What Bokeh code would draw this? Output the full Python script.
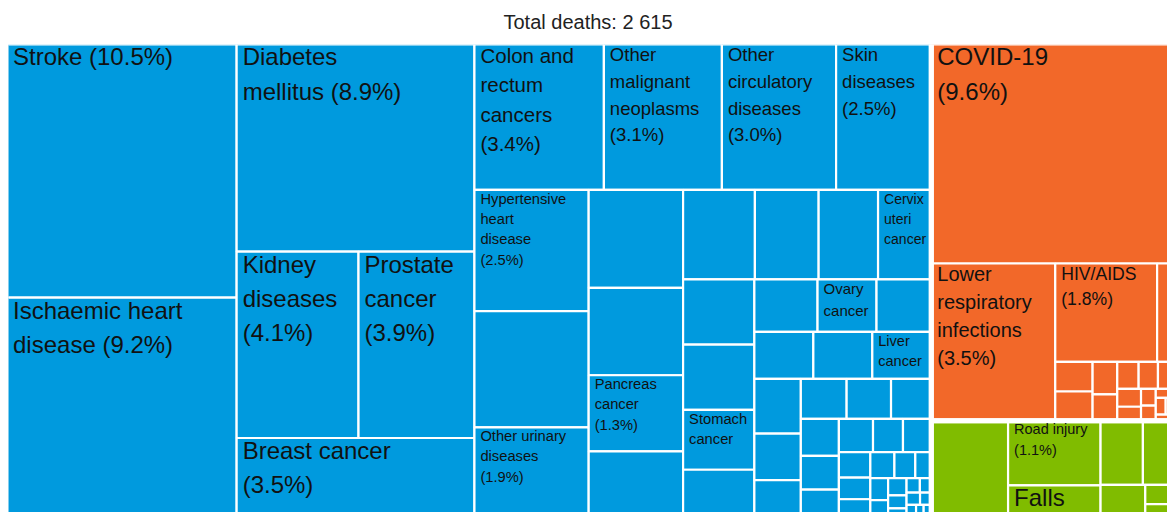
from bokeh.plotting import figure
from bokeh.models import ColumnDataSource, Range1d
from bokeh.embed import file_html
from bokeh.resources import INLINE
from bokeh.core.properties import value

# ---------------- data ----------------
TOTAL_DEATHS = 2615

group_names = ["Noncommunicable diseases",
               "Communicable, maternal, perinatal and nutritional conditions",
               "Injuries"]
group_colors = ["#009ADE", "#F26829", "#80BC00"]

# share of total deaths (%), sorted as in the chart; "" = tile without a visible label
ncd_names = ["Stroke", "Ischaemic heart disease", "Diabetes mellitus", "Kidney diseases",
             "Prostate cancer", "Breast cancer", "Colon and rectum cancers",
             "Other malignant neoplasms", "Other circulatory diseases", "Skin diseases",
             "Hypertensive heart disease", "", "Other urinary diseases", "", "",
             "Pancreas cancer", "", "", "", "", "Cervix uteri cancer", "", "",
             "Stomach cancer", "", "", "Ovary cancer", "", "", "", "Liver cancer",
             "", "", "", "", "", "", "", "", "", "", "", "", "", "", "", "", "", "",
             "", "", "", "", "", "", "", "", "", "", "", ""]
ncd_values = [10.5, 9.2, 8.9, 4.1, 3.9, 3.5, 3.4, 3.1, 3.0, 2.5,
              2.5, 2.4, 1.9, 1.67, 1.49, 1.30, 1.16, 1.16, 1.03, 0.96,
              0.86, 0.84, 0.84, 0.77, 0.64, 0.60, 0.56, 0.52, 0.50, 0.50,
              0.50, 0.46, 0.39, 0.33, 0.33, 0.32, 0.29, 0.255, 0.232, 0.205,
              0.205, 0.18, 0.17, 0.145, 0.123, 0.115, 0.113, 0.098, 0.075, 0.071,
              0.062, 0.058, 0.043, 0.037, 0.035, 0.03, 0.03, 0.025, 0.025, 0.02, 0.02]

comm_names = ["COVID-19", "Lower respiratory infections", "HIV/AIDS", "", "", "", "", "",
              "", "", "", "", "", "", "", "", "", "", ""]
comm_values = [9.6, 3.52, 1.81, 0.30, 0.20, 0.197, 0.145, 0.117, 0.104, 0.094,
               0.078, 0.077, 0.06, 0.045, 0.04, 0.03, 0.03, 0.025, 0.02]

inj_names = ["", "Road injury", "Falls", "", "", "", "", ""]
inj_values = [1.37, 1.08, 0.57, 0.49, 0.36, 0.28, 0.10, 0.08]

# how each visible label is broken into lines ({p} = share of deaths)
label_lines = {
    "Stroke": "Stroke ({p})",
    "Ischaemic heart disease": "Ischaemic heart\ndisease ({p})",
    "Diabetes mellitus": "Diabetes\nmellitus ({p})",
    "Kidney diseases": "Kidney\ndiseases\n({p})",
    "Prostate cancer": "Prostate\ncancer\n({p})",
    "Breast cancer": "Breast cancer\n({p})",
    "Colon and rectum cancers": "Colon and\nrectum\ncancers\n({p})",
    "Other malignant neoplasms": "Other\nmalignant\nneoplasms\n({p})",
    "Other circulatory diseases": "Other\ncirculatory\ndiseases\n({p})",
    "Skin diseases": "Skin\ndiseases\n({p})",
    "Hypertensive heart disease": "Hypertensive\nheart\ndisease\n({p})",
    "Other urinary diseases": "Other urinary\ndiseases\n({p})",
    "Pancreas cancer": "Pancreas\ncancer\n({p})",
    "Cervix uteri cancer": "Cervix\nuteri\ncancer",
    "Stomach cancer": "Stomach\ncancer",
    "Ovary cancer": "Ovary\ncancer",
    "Liver cancer": "Liver\ncancer",
    "COVID-19": "COVID-19\n({p})",
    "Lower respiratory infections": "Lower\nrespiratory\ninfections\n({p})",
    "HIV/AIDS": "HIV/AIDS\n({p})",
    "Road injury": "Road injury\n({p})",
    "Falls": "Falls",
}
# style: label font size (px)
label_px = {
    "Stroke": 24, "Ischaemic heart disease": 24, "Diabetes mellitus": 24,
    "Kidney diseases": 24, "Prostate cancer": 24, "Breast cancer": 24,
    "Colon and rectum cancers": 20.5, "Other malignant neoplasms": 18.5,
    "Other circulatory diseases": 18.5, "Skin diseases": 18.5,
    "Hypertensive heart disease": 14.7, "Other urinary diseases": 14.7,
    "Pancreas cancer": 14.7, "Cervix uteri cancer": 14, "Stomach cancer": 14.7,
    "Ovary cancer": 15, "Liver cancer": 14.5, "COVID-19": 24,
    "Lower respiratory infections": 20, "HIV/AIDS": 17.6, "Road injury": 14.5,
    "Falls": 24,
}

# ---------------- layout (treemap) ----------------
ROOT_W, ROOT_H = 1167.0, 476.0   # treemap extent (the picture crops it)
FIG_W, FIG_H = 1167, 512
PAD_LEFT, PAD_TOP = 8, 43
FRAME_W, FRAME_H = FIG_W - PAD_LEFT, FIG_H - PAD_TOP
X_SHIFT = 1.5


def treemap(vals, x, y, w, h):
    """Strip treemap: strips along the shorter side, grown while the
    first (largest) item gets squarer; strips are laid out recursively."""
    rects = [None] * len(vals)

    def rec(idx, x, y, w, h):
        n = len(idx)
        if n == 0:
            return
        if n == 1:
            rects[idx[0]] = (x, y, w, h)
            return
        v = [vals[i] for i in idx]
        total = sum(v)
        col = w >= h
        length = h if col else w
        depth = w if col else h

        def ratio(k):
            s = sum(v[:k])
            t = depth * s / total
            l0 = length * v[0] / s
            return max(t / l0, l0 / t)

        k, best = 1, ratio(1)
        while k < n:
            r = ratio(k + 1)
            if r > best:
                break
            best, k = r, k + 1
        if k == n:
            pos = y if col else x
            for i, vi in zip(idx, v):
                seg = length * vi / total
                rects[i] = (x, pos, w, seg) if col else (pos, y, seg, h)
                pos += seg
            return
        t = depth * sum(v[:k]) / total
        if col:
            rec(idx[:k], x, y, t, h)
            rec(idx[k:], x + t, y, w - t, h)
        else:
            rec(idx[:k], x, y, w, t)
            rec(idx[k:], x, y + t, w, h - t)

    rec(list(range(len(vals))), x, y, w, h)
    return rects


children = [(ncd_names, ncd_values), (comm_names, comm_values), (inj_names, inj_values)]
group_sums = [sum(v) for _, v in children]
grand_total = sum(group_sums)
group_rects = treemap(group_sums, 0.0, 0.0, ROOT_W, ROOT_H)

left, right, top, bottom, color = [], [], [], [], []
lx, ly, ltext, lsize = [], [], [], []
for (names, vals), grect, gcol in zip(children, group_rects, group_colors):
    gx, gy, gw, gh = grect
    for name, val, (x, y, w, h) in zip(names, vals, treemap(vals, gx, gy, gw, gh)):
        left.append(x); right.append(x + w); top.append(y); bottom.append(y + h)
        color.append(gcol)
        if name in label_lines:
            share = "%.1f%%" % (val / grand_total * 100)
            fs = label_px[name]
            lx.append(x + 6)
            ly.append(y + 3.5 - 0.19 * fs)
            ltext.append(label_lines[name].format(p=share))
            lsize.append("%.1fpx" % fs)

# separators between the top-level groups
sx0, sy0, sx1, sy1 = [], [], [], []
for gx, gy, gw, gh in group_rects:
    for a, b, c, d in [(gx, gy, gx + gw, gy), (gx, gy + gh, gx + gw, gy + gh),
                       (gx, gy, gx, gy + gh), (gx + gw, gy, gx + gw, gy + gh)]:
        if a == c and (abs(a) < 1e-6 or abs(a - ROOT_W) < 1e-6):
            continue
        if b == d and (abs(b) < 1e-6 or abs(b - ROOT_H) < 1e-6):
            continue
        sx0.append(a); sy0.append(b); sx1.append(c); sy1.append(d)

# ---------------- figure ----------------
p = figure(width=FIG_W, height=FIG_H, x_range=Range1d(X_SHIFT, FRAME_W + X_SHIFT),
           y_range=Range1d(FRAME_H, 0), output_backend="svg", toolbar_location=None,
           x_axis_location=None, y_axis_location=None,
           min_border_left=PAD_LEFT, min_border_right=0, min_border_bottom=0,
           min_border_top=PAD_TOP)
p.grid.visible = False
p.outline_line_color = None
p.background_fill_color = "white"
p.border_fill_color = "white"

p.title.text = "Total deaths: " + "{:,}".format(TOTAL_DEATHS).replace(",", " ")
p.title.align = "center"
p.title.vertical_align = "top"
p.title.text_font = "Liberation Sans"
p.title.text_font_size = "20px"
p.title.text_font_style = "normal"
p.title.text_color = "#222222"
p.title.offset = -6
p.title.standoff = 20

p.quad(left="left", right="right", top="top", bottom="bottom", fill_color="color",
       line_color="white", line_width=2.2,
       source=ColumnDataSource(dict(left=left, right=right, top=top, bottom=bottom, color=color)))
p.segment(x0="x0", y0="y0", x1="x1", y1="y1", line_color="white", line_width=5,
          source=ColumnDataSource(dict(x0=sx0, y0=sy0, x1=sx1, y1=sy1)))
p.text(x="x", y="y", text="text", text_font_size="size",
       text_font=value("Liberation Sans"), text_color="#111111",
       text_baseline="top", text_align="left", text_line_height=1.27,
       source=ColumnDataSource(dict(x=lx, y=ly, text=ltext, size=lsize)))

open("out.html", "w").write(file_html(p, INLINE))
